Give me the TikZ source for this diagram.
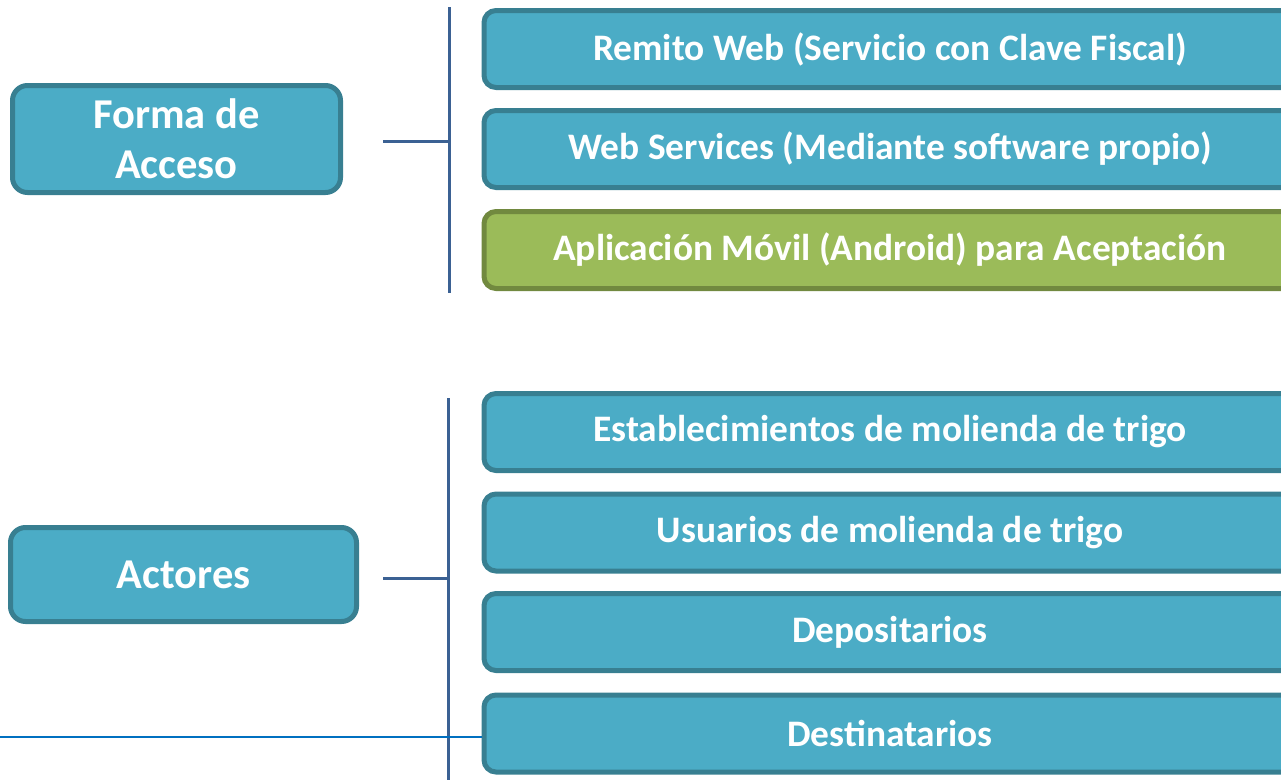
\documentclass[tikz,border=0pt]{standalone}
\usepackage{fontspec}
\setmainfont{Carlito}
\definecolor{boxfill}{HTML}{4BACC6}
\definecolor{boxline}{HTML}{387F91}
\definecolor{greenfill}{HTML}{9BBB59}
\definecolor{greenline}{HTML}{71893F}
\definecolor{barline}{HTML}{3B6193}
\definecolor{thinline}{HTML}{0070C0}
\begin{document}
\begin{tikzpicture}[x=1pt,y=-1pt]
            \tikzstyle{group box}=[rectangle,rounded corners=15pt,draw=boxline,fill=boxfill,line width=5pt,
                text=white,font=\fontsize{42.5}{50}\selectfont\bfseries,align=center,inner sep=0pt]
            \tikzstyle{item box}=[group box,rounded corners=12pt,minimum width=812pt,minimum height=77pt,
                font=\fontsize{37.4}{44}\selectfont\bfseries]
            \tikzstyle{mobile box}=[item box,draw=greenline,fill=greenfill]
            \tikzstyle{bar}=[draw=barline,line width=3pt]

            \clip (0,0) rectangle (1281,779);
            \useasboundingbox (0,0) rectangle (1281,779);

            % forma de acceso
            \node(acceso)[group box,minimum width=328pt,minimum height=107pt] at (176.5,139) {Forma de\\Acceso};
            \node(remito)[item box] at (890,49) {Remito Web (Servicio con Clave Fiscal)};
            \node(webserv)[item box] at (890,149) {Web Services (Mediante software propio)};
            \node(movil)[mobile box] at (890,250) {Aplicación Móvil (Android) para Aceptación};

            \coordinate (acc top) at (449,7);
            \coordinate (acc bot) at (449,293);
            \coordinate (acc in) at (383,141);
            \coordinate (acc mid) at (449,141);
            \draw[bar] (acc top) -- (acc bot);
            \draw[bar] (acc in) -- (acc mid);

            % actores
            \node(actores)[group box,minimum width=346pt,minimum height=94pt] at (183.5,574.5) {Actores};
            \node(molienda)[item box] at (890,432) {Establecimientos de molienda de trigo};
            \node(usuarios)[item box] at (890,532.5) {Usuarios de molienda de trigo};
            \node(deposit)[item box] at (890,632) {Depositarios};
            \node(destin)[item box] at (890,733.5) {Destinatarios};

            \coordinate (act top) at (448,398);
            \coordinate (act bot) at (448,785);
            \coordinate (act in) at (383,578);
            \coordinate (act mid) at (448,578);
            \draw[bar] (act top) -- (act bot);
            \draw[bar] (act in) -- (act mid);

            \coordinate (left end) at (0,737);
            \draw[thinline,line width=2pt] (left end) -- (destin.west |- left end);
\end{tikzpicture}
\end{document}
